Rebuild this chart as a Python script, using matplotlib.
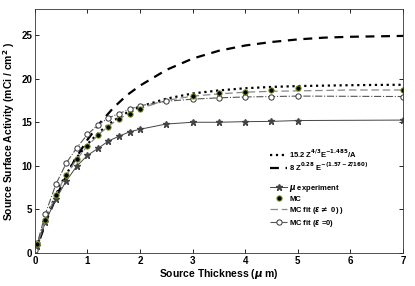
import matplotlib
matplotlib.use("Agg")
import matplotlib.pyplot as plt

# dense x grid for the smooth model curves
x_curve = [0, 0.25, 0.5, 0.75, 1, 1.25, 1.5, 1.75, 2, 2.5, 3, 3.5, 4, 4.5, 5, 5.5, 6, 6.5, 7]
model_a = [0, 4.6, 8.0, 10.6, 12.5, 14.0, 15.2, 16.1, 16.8, 17.7, 18.3, 18.65, 18.9, 19.05, 19.15, 19.2, 19.25, 19.28, 19.3]
model_b = [0, 4.2, 7.7, 10.6, 13.0, 15.0, 16.7, 18.1, 19.2, 21.0, 22.3, 23.2, 23.8, 24.2, 24.5, 24.7, 24.8, 24.85, 24.9]
fit_eps = [0.3, 4.6, 7.9, 10.4, 12.3, 13.8, 15.0, 15.9, 16.6, 17.5, 18.0, 18.25, 18.45, 18.55, 18.6, 18.65, 18.7, 18.7, 18.7]

# MC fit (eps = 0) with markers
x_fit0 = [0, 0.05, 0.2, 0.4, 0.6, 0.8, 1.0, 1.2, 1.4, 1.6, 1.8, 2.0, 2.5, 3.0, 3.5, 4, 4.5, 5, 7]
fit_zero = [0.3, 1.2, 4.5, 7.9, 10.35, 12.1, 13.6, 14.7, 15.5, 16.0, 16.5, 16.9, 17.4, 17.65, 17.8, 17.9, 17.95, 18.0, 17.95]

# MC points
x_mc = [0.05, 0.2, 0.4, 0.6, 0.8, 1.0, 1.2, 1.4, 1.6, 1.8, 2.0, 3, 3.5, 4, 4.5, 5, 7]
mc = [1.0, 3.85, 6.7, 8.9, 10.8, 12.3, 13.5, 14.5, 15.4, 16.0, 16.5, 18.0, 18.35, 18.5, 18.7, 18.9, 18.7]

# experiment
x_exp = [0.05, 0.2, 0.4, 0.6, 0.8, 1.0, 1.2, 1.4, 1.6, 1.8, 2.0, 2.5, 3, 3.5, 4, 4.5, 5, 7]
experiment = [0.8, 3.6, 6.2, 8.3, 10.0, 11.2, 12.0, 12.85, 13.4, 13.9, 14.2, 14.8, 15.0, 15.0, 15.07, 15.1, 15.2, 15.25]

plt.rcParams['font.family'] = ['Liberation Sans', 'DejaVu Sans']
plt.rcParams['font.weight'] = 'bold'

fig = plt.figure(figsize=(4.15, 2.86), dpi=100)
ax = fig.add_axes([0.084, 0.115, 0.887, 0.854])

l_a, = ax.plot(x_curve, model_a, color='black', linestyle=':', linewidth=1.6,
               label=r'15.2 Z$^{4/3}$E$^{-1.485}$/A')
l_b, = ax.plot(x_curve, model_b, color='black', linestyle=(0, (4, 3)), linewidth=1.6,
               label=r'8 Z$^{0.28}$ E$^{-(1.57-Z/160)}$')
l_exp, = ax.plot(x_exp, experiment, color='#444444', linestyle='-', linewidth=0.7,
                 marker='*', markersize=5, markerfacecolor='#444444',
                 label=r'$\mu$ experiment')
l_fit, = ax.plot(x_curve, fit_eps, color='#888888', linestyle=(0, (6, 3)), linewidth=0.9,
                 label=r'MC fit ($\epsilon\neq$ 0) )')
l_fit0, = ax.plot(x_fit0, fit_zero, color='#555555', linestyle='-.', linewidth=0.8,
                  marker='o', markersize=3.8, markerfacecolor='white', markeredgecolor='#333333',
                  markeredgewidth=0.7, label=r'MC fit ($\epsilon$ =0)')
l_mc, = ax.plot(x_mc, mc, linestyle='none', marker='o', markersize=3.8,
                markerfacecolor='black', markeredgecolor='#7a9a20', markeredgewidth=0.7,
                label='MC')

ax.set_xlim(0, 7)
ax.set_ylim(0, 28)
ax.set_xticks(range(0, 8))
ax.set_yticks([0, 5, 10, 15, 20, 25])
ax.tick_params(direction='in', top=True, right=True, labelsize=7, length=3, width=0.6, pad=2)
for lab in ax.get_xticklabels() + ax.get_yticklabels():
    lab.set_fontweight('bold')
for sp in ax.spines.values():
    sp.set_linewidth(0.6)
    sp.set_color('#333333')

ax.set_xlabel(r'Source Thickness ($\mu$ m)', fontsize=7.5, fontweight='bold', labelpad=1)
ax.set_ylabel(r'Source Surface Activity (mCi / cm$^2$ )', fontsize=7.5, fontweight='bold', labelpad=3)

leg1 = ax.legend(handles=[l_a, l_b], loc='upper left', bbox_to_anchor=(0.625, 0.455),
                 frameon=False, fontsize=5.5, handlelength=2.2, handletextpad=0.3,
                 labelspacing=0.1, borderpad=0.2)
ax.add_artist(leg1)
ax.legend(handles=[l_exp, l_mc, l_fit, l_fit0], loc='upper left', bbox_to_anchor=(0.625, 0.31),
          frameon=False, fontsize=5.5, handlelength=2.2, handletextpad=0.3,
          labelspacing=0.25, borderpad=0.2)

fig.savefig('out.png', dpi=100)
